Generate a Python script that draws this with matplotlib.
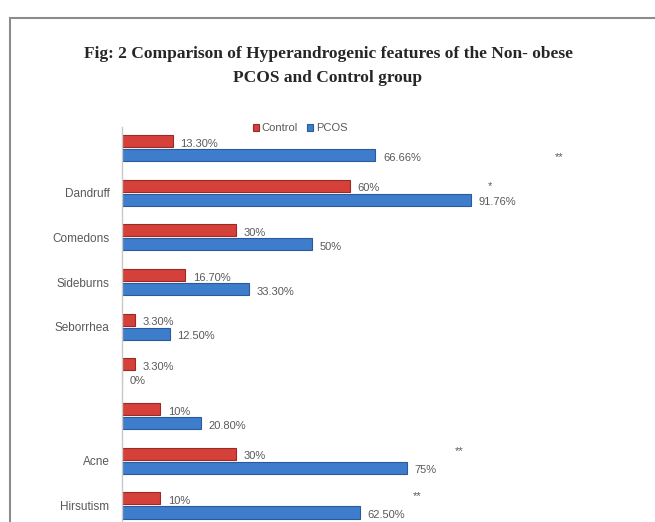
import matplotlib
matplotlib.use("Agg")
import matplotlib.pyplot as plt
from matplotlib.patches import Rectangle
from matplotlib.font_manager import fontManager

names = {f.name for f in fontManager.ttflist}
narrow = 'Liberation Sans Narrow' if 'Liberation Sans Narrow' in names else 'Liberation Sans'

categories = ["", "Dandruff", "Comedons", "Sideburns", "Seborrhea", "", "", "Acne", "Hirsutism"]
control = [13.3, 60, 30, 16.7, 3.3, 3.3, 10, 30, 10]
pcos = [66.66, 91.76, 50, 33.3, 12.5, 0, 20.8, 75, 62.5]
control_labels = ["13.30%", "60%", "30%", "16.70%", "3.30%", "3.30%", "10%", "30%", "10%"]
pcos_labels = ["66.66%", "91.76%", "50%", "33.30%", "12.50%", "0%", "20.80%", "75%", "62.50%"]
# significance markers: (category index, text, x in %, y offset in units)
sig_marks = [(0, "**", 114, -0.2), (1, "*", 96.3, 0.14), (7, "**", 87.5, 0.22), (8, "**", 76.5, 0.2)]

W, H = 655, 522
fig = plt.figure(figsize=(W / 100, H / 100), dpi=100)
fig.patch.set_facecolor("white")

# outer frame
fig.patches.append(Rectangle((10 / W, -0.1), 1.2, 1 - 18 / H + 0.1, transform=fig.transFigure,
                             fill=False, edgecolor="#8c8c8c", linewidth=1.5))

ax = fig.add_axes([122 / W, 0, 380 / W, (522 - 127) / H])
ax.set_xlim(0, 100)
ax.set_ylim(-(8 + 0.37), 0.47)

ys = [-i for i in range(len(categories))]
off = 0.157
bh = 0.27
red = "#d6403a"
blue = "#3d7dcc"
ax.barh([y + off for y in ys], control, height=bh, color=red, edgecolor="#9a2a26", linewidth=0.8, label="Control")
ax.barh([y - off for y in ys], pcos, height=bh, color=blue, edgecolor="#2a5a9a", linewidth=0.8, label="PCOS")

lab_col = "#595959"
for y, v, t in zip(ys, control, control_labels):
    ax.text(v + 2.0, y + off - 0.06, t, fontsize=8, color=lab_col, va="center", ha="left", family=narrow)
for y, v, t in zip(ys, pcos, pcos_labels):
    ax.text(v + 2.0, y - off - 0.06, t, fontsize=8, color=lab_col, va="center", ha="left", family=narrow,
            clip_on=False)
for i, t, x, dy in sig_marks:
    ax.text(x, -i + dy, t, fontsize=8, color=lab_col, va="center", ha="left", family=narrow, clip_on=False)

ax.set_yticks(ys)
ax.set_yticklabels(categories, fontsize=8.5, color=lab_col, family=narrow)
ax.tick_params(axis="y", length=0, pad=9)
ax.set_xticks([])
for s in ["top", "right", "bottom"]:
    ax.spines[s].set_visible(False)
ax.spines["left"].set_color("#c8c8c8")
ax.spines["left"].set_linewidth(1)

fig.text(328 / W, 1 - 66 / H,
         "Fig: 2 Comparison of Hyperandrogenic features of the Non- obese\nPCOS and Control group",
         ha="center", va="center", fontsize=12.5, fontweight="bold", family="Liberation Serif",
         linespacing=1.65, color="#262626")

fig.legend(loc="center", bbox_to_anchor=(300 / W, 1 - 128 / H), ncol=2, frameon=False,
           handlelength=0.6, handleheight=0.6, handletextpad=0.2, columnspacing=0.8,
           prop={"family": narrow, "size": 8}, labelcolor=lab_col)

fig.savefig("out.png", dpi=100)
